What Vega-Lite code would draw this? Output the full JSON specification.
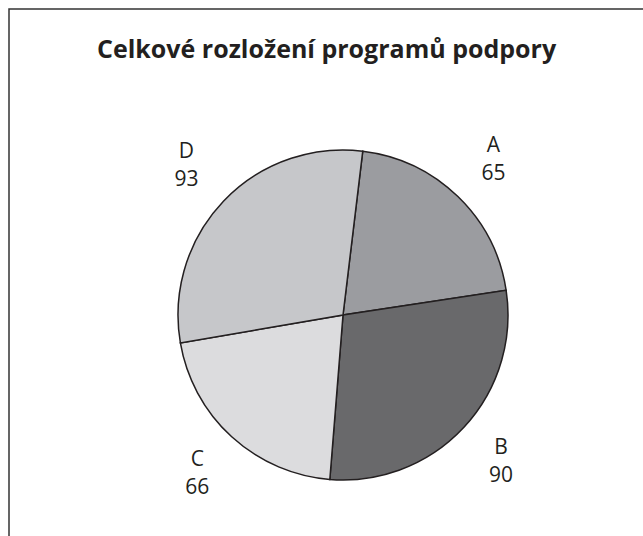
{
  "$schema": "https://vega.github.io/schema/vega-lite/v6.json",
  "width": 668,
  "height": 612,
  "autosize": "none",
  "padding": {"left": 9, "top": 9, "right": 0, "bottom": 0},
  "background": "white",
  "view": {"stroke": "#333333", "strokeWidth": 1.5, "fill": "white"},
  "config": {
    "font": "Open Sans"
  },
  "title": {
    "text": "Celkové rozložení programů podpory",
    "font": "Open Sans",
    "fontSize": 25,
    "fontWeight": "bold",
    "color": "#231f20",
    "anchor": "start",
    "baseline": "alphabetic",
    "offset": 0,
    "dx": 88,
    "dy": 74
  },
  "data": {
    "values": [
      {"program": "A", "value": 65},
      {"program": "B", "value": 90},
      {"program": "C", "value": 66},
      {"program": "D", "value": 93}
    ]
  },
  "encoding": {
    "theta": {"field": "value", "type": "quantitative", "stack": true, "scale": {"range": [0.12, 6.4032]}},
    "order": {"field": "program", "type": "nominal"}
  },
  "layer": [
    {
      "mark": {"type": "arc", "outerRadius": 165, "stroke": "#231f20", "strokeWidth": 1.5},
      "encoding": {
        "color": {
          "field": "program",
          "type": "nominal",
          "scale": {"domain": ["A", "B", "C", "D"], "range": ["#9b9ca0", "#69696b", "#dcdcde", "#c6c7ca"]},
          "legend": null
        }
      }
    },
    {
      "mark": {"type": "text", "radius": 216, "dy": -14, "fontSize": 21, "color": "#231f20", "font": "Open Sans"},
      "encoding": {
        "detail": {"field": "program", "type": "nominal"},
        "text": {"field": "program", "type": "nominal"}
      }
    },
    {
      "mark": {"type": "text", "radius": 216, "dy": 14, "fontSize": 21, "color": "#231f20", "font": "Open Sans"},
      "encoding": {
        "detail": {"field": "program", "type": "nominal"},
        "text": {"field": "value", "type": "quantitative"}
      }
    }
  ]
}
